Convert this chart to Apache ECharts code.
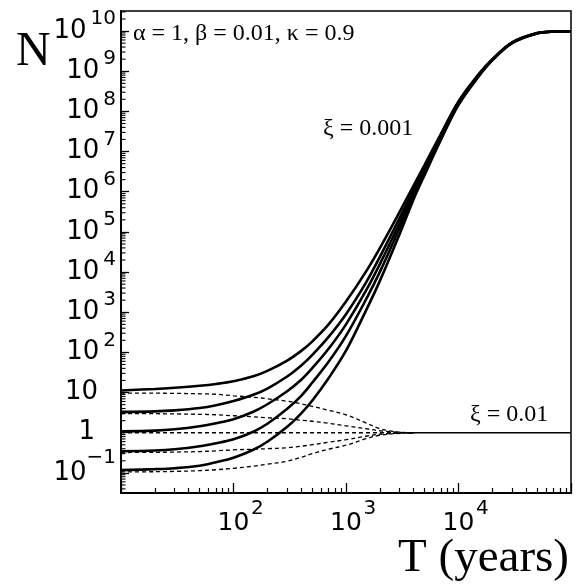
<!DOCTYPE html>
<html><head><meta charset="utf-8">
<script src="https://cdn.jsdelivr.net/npm/echarts@6/dist/echarts.min.js"></script>
<style>html,body{margin:0;padding:0;background:#fff}#c{width:579px;height:586px}</style>
</head><body><div id="c"></div>
<script>
// ---- data ----
const T = [10, 20, 30, 50, 70, 100, 150, 200, 300, 400, 500, 700, 1000, 1500, 2000, 3000, 4000, 5000, 7000, 10000, 15000, 20000, 30000, 50000, 70000, 100000];
// xi = 0.001 (solid), five initial values
const solidN10  = [11.3, 12.3, 13.2, 14.8, 16.4, 19.1, 25.4, 34.6, 62.5, 109, 186, 497, 1841, 1.01e4, 3.97e4, 3.16e5, 1.45e6, 4.68e6, 2.82e7, 1.78e8, 8.3e8, 2.0e9, 5.25e9, 8.9e9, 9.66e9, 9.77e9];
const solidN3   = [3.3, 3.4, 3.6, 4.11, 4.83, 6.15, 8.81, 12.6, 25.1, 47.3, 85.5, 243, 893, 5.37e3, 2.4e4, 2.24e5, 1.17e6, 3.98e6, 2.63e7, 1.7e8, 7.9e8, 1.95e9, 5.19e9, 8.87e9, 9.66e9, 9.77e9];
const solidN1   = [1.08, 1.13, 1.22, 1.45, 1.72, 2.17, 3.33, 5.12, 10.8, 20.8, 40.2, 123, 500, 3.39e3, 1.58e4, 1.66e5, 1.0e6, 3.47e6, 2.4e7, 1.62e8, 7.76e8, 1.93e9, 5.13e9, 8.83e9, 9.66e9, 9.77e9];
const solidN03  = [0.345, 0.361, 0.389, 0.462, 0.548, 0.689, 1.06, 1.67, 3.95, 8.32, 17.5, 58.4, 259, 2.03e3, 1.01e4, 1.26e5, 8.32e5, 3.02e6, 2.14e7, 1.51e8, 7.41e8, 1.91e9, 5.07e9, 8.79e9, 9.64e9, 9.77e9];
const solidN01  = [0.117, 0.124, 0.131, 0.151, 0.185, 0.239, 0.378, 0.597, 1.41, 3.05, 6.25, 22.7, 110, 1.08e3, 6.04e3, 8.91e4, 6.61e5, 2.63e6, 2.0e7, 1.45e8, 7.24e8, 1.86e9, 5.01e9, 8.71e9, 9.64e9, 9.77e9];
// xi = 0.01 (dashed), T up to 4000
const TD = [10, 20, 30, 50, 70, 100, 150, 200, 300, 400, 500, 700, 1000, 1500, 2000, 3000, 4000];
const dashN10 = [9.7, 9.65, 9.55, 9.33, 9.07, 8.32, 7.64, 7.01, 6.08, 5.26, 4.56, 3.63, 2.80, 1.77, 1.26, 1.03, 1.0];
const dashN3  = [3.0, 2.98, 2.94, 2.87, 2.80, 2.65, 2.50, 2.36, 2.23, 2.05, 1.93, 1.72, 1.49, 1.26, 1.12, 1.02, 1.0];
const dashN1  = [1, 1, 1, 1, 1, 1, 1, 1, 1, 1, 1, 1, 1, 1, 1, 1, 1];
const dashN03 = [0.322, 0.325, 0.330, 0.340, 0.354, 0.375, 0.389, 0.400, 0.424, 0.462, 0.503, 0.580, 0.670, 0.818, 0.918, 0.98, 1.0];
const dashN01 = [0.106, 0.107, 0.109, 0.114, 0.120, 0.130, 0.147, 0.165, 0.195, 0.246, 0.300, 0.389, 0.489, 0.709, 0.867, 0.97, 1.0];
// converged xi = 0.01 line
const convT = [3500, 100000];
const convN = [1, 1];
// ticks
const xTickExp = [2, 3, 4];
const yTickExp = [-1, 0, 1, 2, 3, 4, 5, 6, 7, 8, 9, 10];

const X_MIN = 10, X_MAX = 1e5, Y_MIN = 0.0316, Y_MAX = 3.16e10;
const xMajor = xTickExp.map(n => Math.pow(10, n));
const yMajor = yTickExp.map(n => Math.pow(10, n));
const yMinor = [];
for (let n = -2; n <= 10; n++) for (let k = 2; k <= 9; k++) { const v = k * Math.pow(10, n); if (v > Y_MIN && v < Y_MAX) yMinor.push(v); }

const FONT = 'DejaVu Sans';
const SERIF = 'Liberation Serif';
const expOf = v => Math.round(Math.log10(v));

function xLabel(v) {
  const n = expOf(v);
  if (xTickExp.indexOf(n) < 0) return '';
  return '{s| }{b|10}{e|' + n + '}';
}
function yLabel(v) {
  const n = expOf(v);
  if (yTickExp.indexOf(n) < 0) return '';
  if (n === 0) return '{b1|1}{s1| }';
  if (n === 1) return '{b|10}{s| }';
  if (n === -1) return '{bm|10}{m|\u22121}';
  return '{b|10}{e|' + n + '}';
}

const chart = echarts.init(document.getElementById('c'), null, {renderer: 'canvas'});
const mk = (xs, ys) => xs.map((t, i) => [t, ys[i]]);
const solidStyle = {color: '#000', width: 2.6};
const dashStyle = {color: '#000', width: 1.3, type: [4, 3]};
function line(data, style) {
  return {type: 'line', data, symbol: 'none', smooth: 0.35, lineStyle: style, silent: true, animation: false};
}

chart.setOption({
  backgroundColor: '#fff',
  animation: false,
  grid: {left: 121, right: 8, top: 11, bottom: 93, show: true, borderColor: '#000', borderWidth: 1.5, backgroundColor: 'transparent'},
  xAxis: {
    type: 'log', min: X_MIN, max: X_MAX,
    axisLine: {show: true, lineStyle: {color: '#000', width: 2}},
    axisTick: {show: true, inside: true, length: 10, lineStyle: {color: '#000', width: 1.3}},
    minorTick: {show: true, splitNumber: 9, length: 5, lineStyle: {color: '#000', width: 1.2}},
    axisLabel: {show: true, customValues: xMajor, interval: 0, margin: 6, color: '#000', formatter: xLabel,
      rich: {
        b: {fontFamily: FONT, fontSize: 25, lineHeight: 48, color: '#000'},
        e: {fontFamily: FONT, fontSize: 20, lineHeight: 20, verticalAlign: 'top', width: 16, align: 'left', color: '#000'},
        s: {fontFamily: FONT, fontSize: 20, width: 16}
      }},
    splitLine: {show: false}
  },
  yAxis: {
    type: 'log', min: Y_MIN, max: Y_MAX,
    axisLine: {show: true, lineStyle: {color: '#000', width: 2}},
    axisTick: {show: true, inside: true, length: 8, lineStyle: {color: '#000', width: 1.3}, customValues: yMajor},
    axisLabel: {show: true, customValues: yMajor, interval: 0, margin: 5, color: '#000', formatter: yLabel, align: 'right',
      showMinLabel: true, showMaxLabel: true, hideOverlap: false,
      rich: {
        b: {fontFamily: FONT, fontSize: 26, lineHeight: 44, color: '#000'},
        b1: {fontFamily: FONT, fontSize: 26, lineHeight: 22, color: '#000'},
        bm: {fontFamily: FONT, fontSize: 26, lineHeight: 50, color: '#000'},
        e: {fontFamily: FONT, fontSize: 20, lineHeight: 22, verticalAlign: 'top', padding: [0, 0, 0, 4], color: '#000'},
        m: {fontFamily: FONT, fontSize: 20, lineHeight: 18, verticalAlign: 'top', color: '#000'},
        s: {fontFamily: FONT, fontSize: 20, width: 18},
        s1: {fontFamily: FONT, fontSize: 20, lineHeight: 22, width: 21}
      }},
    splitLine: {show: false}, minorTick: {show: false}
  },
  graphic: [
    {type: 'text', x: 16, y: 52.5, style: {text: 'N', font: '48px "' + SERIF + '"', fill: '#000', align: 'left', verticalAlign: 'middle'}},
    {type: 'text', x: 569, y: 559, style: {text: 'T (years)', font: '47px "' + SERIF + '"', fill: '#000', align: 'right', verticalAlign: 'middle'}},
    {type: 'text', x: 133, y: 34, style: {text: '\u03b1 = 1, \u03b2 = 0.01, \u03ba = 0.9', font: '24px "' + SERIF + '"', fill: '#000', align: 'left', verticalAlign: 'middle'}},
    {type: 'text', x: 323, y: 129, style: {text: '\u03be = 0.001', font: '24px "' + SERIF + '"', fill: '#000', align: 'left', verticalAlign: 'middle'}},
    {type: 'text', x: 470, y: 415, style: {text: '\u03be = 0.01', font: '24px "' + SERIF + '"', fill: '#000', align: 'left', verticalAlign: 'middle'}}
  ],
  series: [
    line(mk(TD, dashN10), dashStyle),
    line(mk(TD, dashN3), dashStyle),
    line(mk(TD, dashN1), dashStyle),
    line(mk(TD, dashN03), dashStyle),
    line(mk(TD, dashN01), dashStyle),
    line(mk(convT, convN), {color: '#000', width: 1.3}),
    line(mk(T, solidN10), solidStyle),
    line(mk(T, solidN3), solidStyle),
    line(mk(T, solidN1), solidStyle),
    line(mk(T, solidN03), solidStyle),
    line(mk(T, solidN01), solidStyle),
    {
      type: 'custom', coordinateSystem: 'cartesian2d', silent: true,
      data: yMinor.map(v => [X_MIN, v]),
      renderItem: (params, api) => {
        const c = api.coord([api.value(0), api.value(1)]);
        return {type: 'rect', shape: {x: c[0], y: c[1] - 0.55, width: 4.5, height: 1.1}, style: {fill: '#000'}};
      }
    }
  ]
});
</script>
</body></html>
